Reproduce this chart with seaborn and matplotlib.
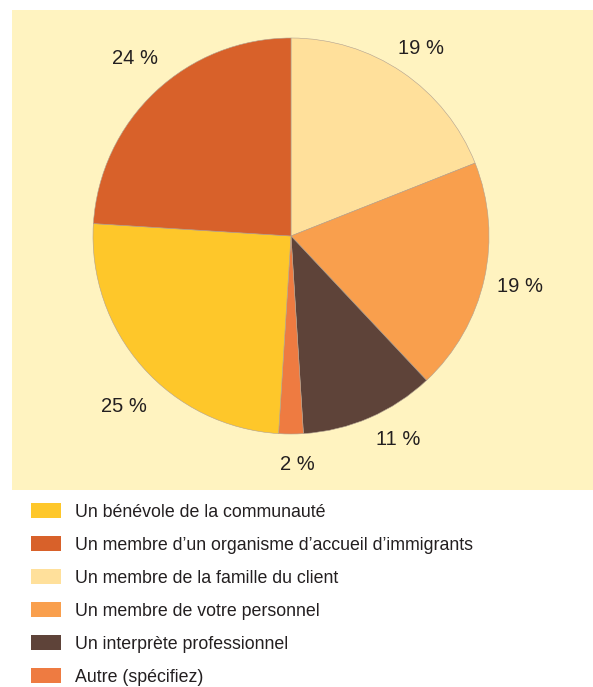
import matplotlib
matplotlib.use("Agg")
import matplotlib.pyplot as plt
from matplotlib.patches import Patch, Rectangle
import seaborn as sns

# categories in legend order
categories = [
    "Un bénévole de la communauté",
    "Un membre d\u2019un organisme d\u2019accueil d\u2019immigrants",
    "Un membre de la famille du client",
    "Un membre de votre personnel",
    "Un interprète professionnel",
    "Autre (spécifiez)",
]
shares = [25, 24, 19, 19, 11, 2]
colors = ["#FEC72A", "#D8612A", "#FFE09B", "#F99F4D", "#5E4339", "#EE7B41"]

# order in which slices go round the pie, clockwise from the top
pie_order = [2, 3, 4, 5, 0, 1]

sns.set_theme(style="white")
plt.rcParams["font.family"] = ["Liberation Sans", "DejaVu Sans"]

W, H = 593, 687
fig = plt.figure(figsize=(W / 100, H / 100), dpi=100)

# pale yellow panel behind the pie
fig.add_artist(Rectangle((12 / W, 1 - 490 / H), 1 - 12 / W, 480 / H,
                         transform=fig.transFigure, facecolor="#FFF3C0",
                         edgecolor="none", zorder=0))

cx, cy, r = 291, 236, 198
ax = fig.add_axes([(cx - r) / W, 1 - (cy + r) / H, 2 * r / W, 2 * r / H])
ax.set_facecolor("none")

vals = [shares[i] for i in pie_order]
cols = [colors[i] for i in pie_order]
wedges, texts, autotexts = ax.pie(
    vals, colors=cols, startangle=90, counterclock=False,
    autopct=lambda p: f"{p:.0f} %", pctdistance=1.17,
    wedgeprops=dict(linewidth=0.4, edgecolor="#B0A090"),
    textprops=dict(fontsize=14.5, color="#231F20"),
)

# small hand nudges so the labels sit where the original has them
label_nudge = [(0.0, -0.02), (0.015, 0.0), (0.075, 0.045),
               (0.03, 0.015), (0.035, -0.085), (0.015, 0.045)]
for t, (dx, dy) in zip(autotexts, label_nudge):
    x, y = t.get_position()
    t.set_position((x + dx, y + dy))

ax.set_xlim(-1, 1)
ax.set_ylim(-1, 1)
ax.axis("off")

handles = [Patch(facecolor=c, edgecolor="none") for c in colors]
fig.legend(handles, categories, loc="upper left",
           bbox_to_anchor=(31 / W, 1 - 503 / H), frameon=False,
           fontsize=12.8, handlelength=1.68, handleheight=0.9,
           handletextpad=0.78, labelspacing=0.875, borderpad=0,
           borderaxespad=0, labelcolor="#231F20")

fig.savefig("out.png", dpi=100)
